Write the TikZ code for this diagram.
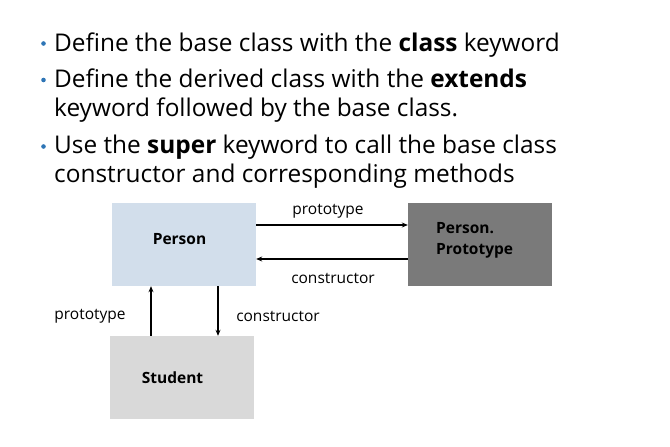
\documentclass[tikz,border=0pt]{standalone}
\usepackage{fontspec}
\setmainfont{Open Sans}
\usetikzlibrary{arrows.meta}
\definecolor{personblue}{HTML}{D2DEEB}
\definecolor{protogray}{HTML}{7A7A7A}
\definecolor{studentgray}{HTML}{D9D9D9}
\definecolor{bulletblue}{HTML}{2E75B6}
\tikzset{
  classbox/.style={draw=none, minimum width=144pt, minimum height=83pt, inner sep=0pt},
  boxtext/.style={font=\fontsize{15.5}{21}\selectfont\bfseries, inner sep=0pt},
  edgetext/.style={font=\fontsize{15.5}{19}\selectfont, inner sep=0pt},
  link/.style={line width=1.6pt, -{Stealth[length=6pt,width=5pt]}},
  bullettext/.style={anchor=base west, inner sep=0pt, font=\fontsize{24.4}{28}\selectfont},
  bulletdot/.style={circle, fill=bulletblue, inner sep=0pt, minimum size=4.6pt}
}
\begin{document}
\begin{tikzpicture}[x=1pt, y=-1pt]
\useasboundingbox (0,0) rectangle (670,447);

% bullet list, one node per printed line
\node[bulletdot] (b1) at (43.5,43.5) {};
\node[bullettext] (t1) at (54,51) {Define the base class with the \textbf{class} keyword};
\node[bulletdot] (b2) at (43.5,80) {};
\node[bullettext] (t2) at (54,87) {Define the derived class with the \textbf{extends}};
\node[bullettext] (t2b) at (54,116.5) {keyword followed by the base class.};
\node[bulletdot] (b3) at (43.5,146.5) {};
\node[bullettext] (t3) at (54,153) {Use the \textbf{super} keyword to call the base class};
\node[bullettext] (t3b) at (54,182) {constructor and corresponding methods};

% class boxes
\node[classbox, fill=personblue] (person) at (184,244.5) {};
\node[boxtext] at (179.5,239) {Person};
\node[classbox, fill=protogray] (proto) at (480,244.5) {};
\node[boxtext, align=left, anchor=west] at (436,240) {Person.\\Prototype};
\node[classbox, fill=studentgray] (student) at (182,377.5) {};
\node[boxtext] at (172.5,378) {Student};

% links between the boxes
\draw[link] (person.east |- 0,225) -- (proto.west |- 0,225);
\node[edgetext] (lp1) at (328,211) {prototype};
\draw[link] (proto.west |- 0,259) -- (person.east |- 0,259);
\node[edgetext] (lc1) at (333,278) {constructor};
\draw[link] (student.north -| 151,0) -- (person.south -| 151,0);
\node[edgetext] (lp2) at (90,316) {prototype};
\draw[link] (person.south -| 218,0) -- (student.north -| 218,0);
\node[edgetext] (lc2) at (278,316) {constructor};
\end{tikzpicture}
\end{document}
